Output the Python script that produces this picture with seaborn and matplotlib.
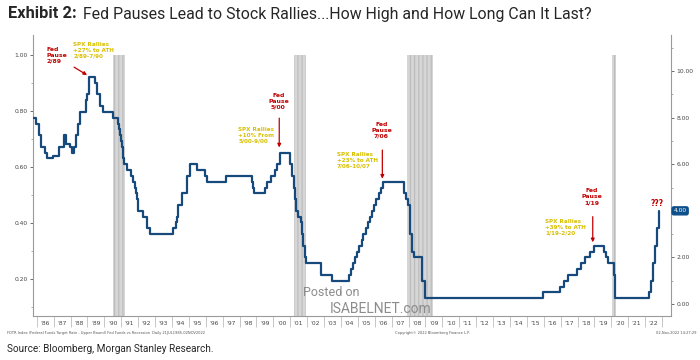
import matplotlib
matplotlib.use("Agg")
import pandas as pd
import seaborn as sns
import matplotlib.pyplot as plt
from matplotlib.ticker import FixedLocator, MultipleLocator, NullFormatter, FixedFormatter

# Fed funds target rate (upper bound), one entry per change
rate_dates = [
    "1985-10-12", "1985-12-10", "1986-02-20", "1986-03-28", "1986-06-28", "1986-08-05",
    "1986-12-12", "1987-05-05", "1987-08-12", "1987-09-24", "1987-12-20", "1988-02-05",
    "1988-03-17", "1988-05-01", "1988-06-05", "1988-07-22", "1988-12-01", "1989-01-01",
    "1989-02-10", "1989-06-13", "1989-07-20", "1989-09-26", "1989-12-10", "1990-07-13",
    "1990-10-29", "1990-11-14", "1990-12-07", "1990-12-18", "1991-01-09", "1991-02-01",
    "1991-03-08", "1991-04-30", "1991-08-06", "1991-09-13", "1991-10-31", "1991-11-06",
    "1991-12-06", "1991-12-20", "1992-04-09", "1992-07-02", "1992-09-04", "1994-02-04",
    "1994-03-22", "1994-04-18", "1994-05-17", "1994-08-16", "1994-11-15", "1995-02-01",
    "1995-07-06", "1995-12-19", "1996-01-31", "1997-03-25", "1998-09-29", "1998-10-15",
    "1998-11-17", "1999-06-30", "1999-08-24", "1999-11-16", "2000-02-02", "2000-03-21",
    "2000-05-16", "2001-01-03", "2001-01-31", "2001-03-20", "2001-04-18", "2001-05-15",
    "2001-06-27", "2001-08-21", "2001-09-17", "2001-10-02", "2001-11-06", "2001-12-11",
    "2002-11-06", "2003-06-25", "2004-06-30", "2004-08-10", "2004-09-21", "2004-11-10",
    "2004-12-14", "2005-02-02", "2005-03-22", "2005-05-03", "2005-06-30", "2005-08-09",
    "2005-09-20", "2005-11-01", "2005-12-13", "2006-01-31", "2006-03-28", "2006-05-10",
    "2006-06-29", "2007-09-18", "2007-10-31", "2007-12-11", "2008-01-22", "2008-01-30",
    "2008-03-18", "2008-04-30", "2008-10-08", "2008-10-29", "2008-12-16", "2015-12-16",
    "2016-12-14", "2017-03-15", "2017-06-14", "2017-12-13", "2018-03-21", "2018-06-13",
    "2018-09-26", "2018-12-19", "2019-07-31", "2019-09-18", "2019-10-30", "2020-03-03",
    "2020-03-15", "2022-03-16", "2022-05-04", "2022-06-15", "2022-07-27", "2022-09-21",
    "2022-11-02", "2022-11-03",
]
rate_levels = [
    8.0, 7.75, 7.25, 6.75, 6.5, 6.25,
    6.375, 6.75, 7.25, 6.875, 6.75, 6.5,
    6.75, 7.25, 7.75, 8.25, 8.75, 9.0,
    9.75, 9.5, 9.0, 8.5, 8.25, 8.0,
    7.75, 7.5, 7.25, 7.0, 6.75, 6.25,
    6.0, 5.75, 5.5, 5.25, 5.0, 4.75,
    4.5, 4.0, 3.75, 3.25, 3.0, 3.25,
    3.5, 3.75, 4.25, 4.75, 5.5, 6.0,
    5.75, 5.5, 5.25, 5.5, 5.25, 5.0,
    4.75, 5.0, 5.25, 5.5, 5.75, 6.0,
    6.5, 6.0, 5.5, 5.0, 4.5, 4.0,
    3.75, 3.5, 3.0, 2.5, 2.0, 1.75,
    1.25, 1.0, 1.25, 1.5, 1.75, 2.0,
    2.25, 2.5, 2.75, 3.0, 3.25, 3.5,
    3.75, 4.0, 4.25, 4.5, 4.75, 5.0,
    5.25, 4.75, 4.5, 4.25, 3.5, 3.0,
    2.25, 2.0, 1.5, 1.0, 0.25, 0.5,
    0.75, 1.0, 1.25, 1.5, 1.75, 2.0,
    2.25, 2.5, 2.25, 2.0, 1.75, 1.25,
    0.25, 0.5, 1.0, 1.75, 2.5, 3.25,
    4.0, 4.0,
]

recession_starts = ["1990-07-08", "2001-03-25", "2007-11-20", "2020-01-22"]
recession_ends = ["1991-03-20", "2001-12-10", "2009-06-20", "2020-04-05"]

year_labels = [
    "’86", "’87", "’88", "’89", "’90", "’91", "’92", "’93", "’94", "’95", "’96", "’97",
    "’98", "’99", "’00", "’01", "’02", "’03", "’04", "’05", "’06", "’07", "’08", "’09",
    "’10", "’11", "’12", "’13", "’14", "’15", "’16", "’17", "’18", "’19", "’20", "’21",
    "’22",
]
left_ticks = [0.2, 0.4, 0.6, 0.8, 1.0]
right_ticks = [0, 2, 4, 6, 8, 10]
last_value = "4.00"

RED = "#c00000"
GOLD = "#d8c000"
LINE = "#174a7c"
GREY = "#9a9a9a"
HEAD = ["Roboto", "DejaVu Sans"]


def to_year(s):
    d = pd.Timestamp(s)
    return d.year + (d.dayofyear - 1) / (366 if d.is_leap_year else 365)


sns.set_style("white")
plt.rcParams["font.family"] = ["DejaVu Sans"]
plt.rcParams["hatch.linewidth"] = 0.9

df = pd.DataFrame({"year": [to_year(d) for d in rate_dates], "rate": rate_levels})

fig = plt.figure(figsize=(7, 3.6), dpi=100)
ax = fig.add_axes([33 / 700, 1 - 316 / 360, (671 - 33) / 700, (316 - 35) / 360])
ax_r = ax.twinx()

# left scale (as in the original) and recession bands
l_lo, l_hi = 0.068, 1.071
ax.set_ylim(l_lo, l_hi)
ax.set_xlim(1985.78, 2023.53)
band_top = (1.0 - l_lo) / (l_hi - l_lo)
for s, e in zip(recession_starts, recession_ends):
    ax.axvspan(to_year(s), to_year(e), ymin=0, ymax=band_top, facecolor="#d6d6d6",
               edgecolor="#bdbdbd", hatch="||||", linewidth=0, zorder=1)

# rate line
sns.lineplot(data=df, x="year", y="rate", ax=ax_r, drawstyle="steps-post",
             color=LINE, linewidth=1.6, zorder=5)
ax_r.set_ylim(-0.515, 11.55)
ax_r.set_xlim(1985.78, 2023.53)
ax_r.set_xlabel("")
ax_r.set_ylabel("")
ax.set_xlabel("")
ax.set_ylabel("")

for a in (ax, ax_r):
    for side in a.spines:
        a.spines[side].set_visible(False)
ax.spines["left"].set_visible(True)
ax.spines["bottom"].set_visible(True)
ax_r.spines["right"].set_visible(True)
for sp in (ax.spines["left"], ax.spines["bottom"], ax_r.spines["right"]):
    sp.set_color(GREY)
    sp.set_linewidth(0.8)

# y ticks
ax.yaxis.set_major_locator(FixedLocator(left_ticks))
ax.yaxis.set_major_formatter(FixedFormatter([f"{v:.2f}" for v in left_ticks]))
ax.yaxis.set_minor_locator(MultipleLocator(0.1))
ax.tick_params(axis="y", which="major", length=2.5, width=0.6, color="#555555",
               labelsize=4.3, labelcolor="#444444", pad=1.5, left=True)
ax.tick_params(axis="y", which="minor", length=1.5, width=0.5, color="#888888", left=True)

ax_r.yaxis.set_major_locator(FixedLocator(right_ticks))
ax_r.yaxis.set_major_formatter(FixedFormatter(
    ["" if f"{v:.2f}" == last_value else f"{v:.2f}" for v in right_ticks]))
ax_r.yaxis.set_minor_locator(MultipleLocator(1))
ax_r.tick_params(axis="y", which="major", length=2.5, width=0.6, color="#555555",
                 labelsize=4.3, labelcolor="#444444", pad=1.5, right=True)
ax_r.tick_params(axis="y", which="minor", length=1.5, width=0.5, color="#888888", right=True)

# x ticks: separators at year boundaries, labels centred in each year
years = list(range(1986, 1986 + len(year_labels) + 1))
ax.xaxis.set_major_locator(FixedLocator(years))
ax.xaxis.set_major_formatter(NullFormatter())
ax.xaxis.set_minor_locator(FixedLocator([y + 0.5 for y in years[:-1]]))
ax.xaxis.set_minor_formatter(FixedFormatter(year_labels))
ax.tick_params(axis="x", which="major", length=8, width=0.5, color="#b0b0b0", bottom=True)
ax.tick_params(axis="x", which="minor", length=0, labelsize=4.3, labelcolor="#444444", pad=3.5)
ax_r.tick_params(axis="x", which="both", bottom=False, labelbottom=False)

# last value tag
ax_r.text(1.004, 4.0, last_value, transform=ax_r.get_yaxis_transform(), ha="left",
          va="center", fontsize=4.3, color="white", clip_on=False, zorder=10,
          bbox=dict(boxstyle="round,pad=0.25,rounding_size=0.3", fc="#0d4f8b", ec="#0d4f8b"))

# annotations
txt_red = dict(color=RED, fontsize=4.4, fontweight="bold", linespacing=1.25, va="top")
txt_gold = dict(color=GOLD, fontsize=4.1, fontweight="bold", linespacing=1.25, va="top", ha="left")
arrow = dict(arrowstyle="-|>", color=RED, lw=0.9, mutation_scale=5, shrinkA=0, shrinkB=0)

ax_r.text(1986.55, 11.05, "Fed\nPause\n2/89", ha="left", **txt_red)
ax_r.annotate("", xy=(1988.98, 9.83), xytext=(1988.21, 10.17), arrowprops=arrow)
ax_r.text(1988.15, 11.25, "SPX Rallies\n+27% to ATH\n2/89-7/90", **txt_gold)

ax_r.text(2000.3, 9.08, "Fed\nPause\n5/00", ha="center", **txt_red)
ax_r.annotate("", xy=(2000.35, 6.72), xytext=(2000.35, 7.98), arrowprops=arrow)
ax_r.text(1997.92, 7.62, "SPX Rallies\n+10% From\n5/00-9/00", **txt_gold)

ax_r.text(2006.4, 7.83, "Fed\nPause\n7/06", ha="center", **txt_red)
ax_r.annotate("", xy=(2006.45, 5.38), xytext=(2006.45, 6.61), arrowprops=arrow)
ax_r.text(2003.77, 6.54, "SPX Rallies\n+23% to ATH\n7/06-10/07", **txt_gold)

ax_r.text(2018.86, 4.96, "Fed\nPause\n1/19", ha="center", **txt_red)
ax_r.annotate("", xy=(2018.9, 2.65), xytext=(2018.9, 3.75), arrowprops=arrow)
ax_r.text(2016.08, 3.67, "SPX Rallies\n+39% to ATH\n1/19-2/20", **txt_gold)

ax_r.text(2022.71, 4.33, "???", ha="center", va="center", color=RED, fontsize=5.5,
          fontweight="bold")

# title, source, footnotes
t1 = fig.text(8 / 700, 1 - 14 / 360, "Exhibit 2:", fontsize=11.8, fontweight="bold",
              family=HEAD, va="center", ha="left")
fig.canvas.draw()
bb = t1.get_window_extent()
fig.text((bb.x1 + 6) / 700, 1 - 14 / 360,
         "Fed Pauses Lead to Stock Rallies...How High and How Long Can It Last?",
         fontsize=11.4, family=HEAD, va="center", ha="left")
fig.text(7 / 700, 1 - 349 / 360, "Source: Bloomberg, Morgan Stanley Research.",
         fontsize=7.2, family=HEAD, va="center", ha="left")

foot = dict(fontsize=2.6, color="#555555", va="center")
fig.text(7 / 700, 1 - 333 / 360,
         "FDTR Index (Federal Funds Target Rate - Upper Bound) Fed Funds vs Recession  "
         "Daily 21JUL1985-02NOV2022", ha="left", **foot)
fig.text(395 / 700, 1 - 333 / 360, "Copyright© 2022 Bloomberg Finance L.P.", ha="left", **foot)
fig.text(697 / 700, 1 - 333 / 360, "02-Nov-2022 14:27:29", ha="right", **foot)

# watermark
fig.text(303 / 700, 1 - 292 / 360, "Posted on", fontsize=9, color="#8c8c8c",
         family=HEAD, va="center", ha="left")
fig.text(330 / 700, 1 - 309 / 360, "ISABELNET.com", fontsize=10, color="#8c8c8c",
         family=HEAD, va="center", ha="left")

fig.savefig("out.png", dpi=100)
